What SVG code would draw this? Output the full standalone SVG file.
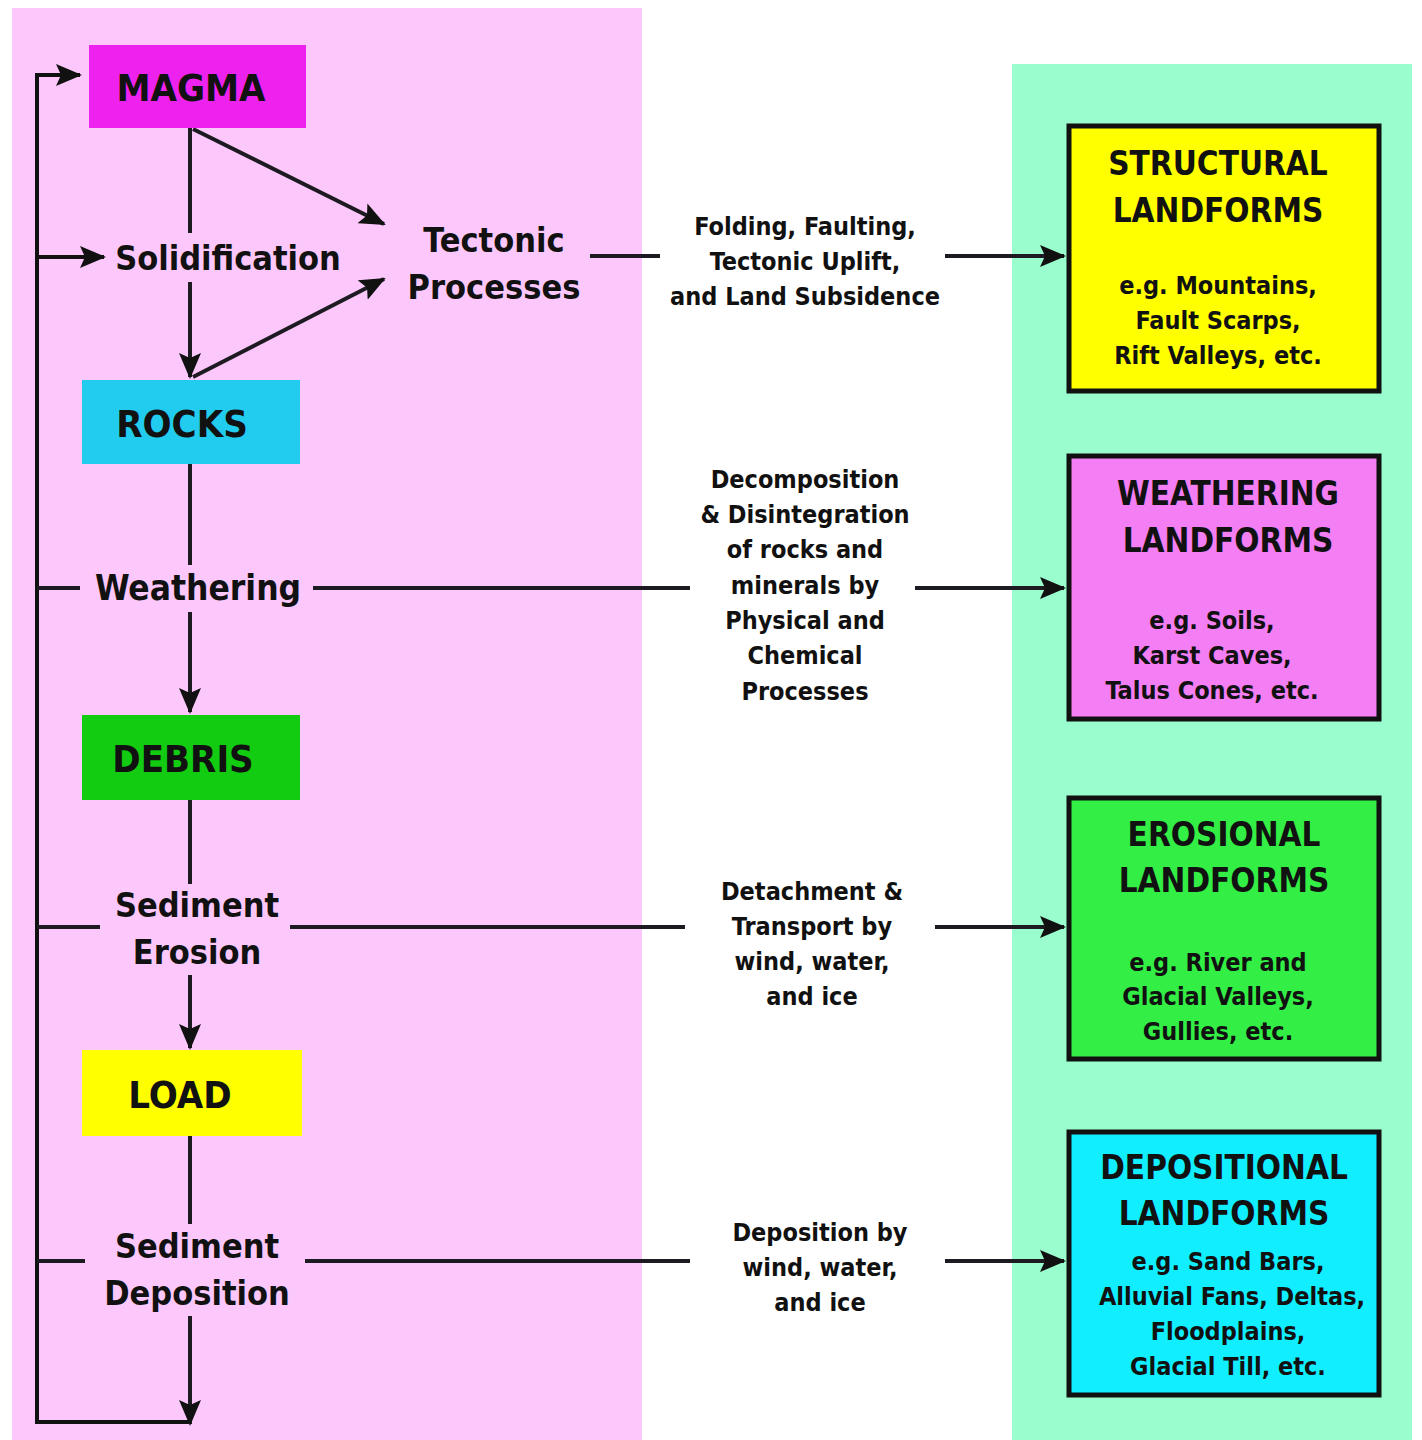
<svg xmlns="http://www.w3.org/2000/svg" width="1422" height="1440" viewBox="0 0 1422 1440">
<defs>
<marker id="ah" markerUnits="userSpaceOnUse" markerWidth="26" markerHeight="22" refX="24" refY="11" orient="auto">
<path d="M0,0 L26,11 L0,22 L5,11 Z" fill="#111"/>
</marker>
</defs>
<style>
.t{font-family:"DejaVu Sans","Liberation Sans",sans-serif;font-stretch:condensed;font-weight:bold;fill:#111;text-anchor:middle}
.big{font-size:38px}
.lab{font-size:34px}
.wl{font-size:35px}
.mid{font-size:25px}
.hd{font-size:33px}
.sm{font-size:25px}
.ln{stroke:#1e1a22;stroke-width:4;fill:none}
.lp{stroke:#111;stroke-width:4;fill:none}
.rb{stroke:#111;stroke-width:5}
</style>
<rect x="0" y="0" width="1422" height="1440" fill="#ffffff"/>
<rect x="12" y="8" width="630" height="1432" fill="#fcc8fc"/>
<rect x="1012" y="64" width="400" height="1376" fill="#99fdcd"/>

<g id="connectors">
<polyline class="lp" points="190,1422 37,1422 37,75 80,75" marker-end="url(#ah)"/>
<line class="lp" x1="37" y1="257" x2="104" y2="257" marker-end="url(#ah)"/>
<line class="ln" x1="37" y1="588" x2="80" y2="588"/>
<line class="ln" x1="37" y1="927" x2="100" y2="927"/>
<line class="ln" x1="37" y1="1261" x2="85" y2="1261"/>
<line class="ln" x1="190" y1="128" x2="190" y2="233"/>
<line class="ln" x1="190" y1="282" x2="190" y2="377" marker-end="url(#ah)"/>
<line class="ln" x1="193" y1="129" x2="384" y2="224" marker-end="url(#ah)"/>
<line class="ln" x1="193" y1="377" x2="384" y2="279" marker-end="url(#ah)"/>
<line class="ln" x1="590" y1="256" x2="660" y2="256"/>
<line class="ln" x1="945" y1="256" x2="1064" y2="256" marker-end="url(#ah)"/>
<line class="ln" x1="190" y1="464" x2="190" y2="565"/>
<line class="ln" x1="313" y1="588" x2="690" y2="588"/>
<line class="ln" x1="915" y1="588" x2="1064" y2="588" marker-end="url(#ah)"/>
<line class="ln" x1="190" y1="612" x2="190" y2="712" marker-end="url(#ah)"/>
<line class="ln" x1="190" y1="800" x2="190" y2="884"/>
<line class="ln" x1="290" y1="927" x2="685" y2="927"/>
<line class="ln" x1="935" y1="927" x2="1064" y2="927" marker-end="url(#ah)"/>
<line class="ln" x1="190" y1="975" x2="190" y2="1048" marker-end="url(#ah)"/>
<line class="ln" x1="190" y1="1136" x2="190" y2="1224"/>
<line class="ln" x1="305" y1="1261" x2="690" y2="1261"/>
<line class="ln" x1="945" y1="1261" x2="1064" y2="1261" marker-end="url(#ah)"/>
<line class="ln" x1="190" y1="1316" x2="190" y2="1424" marker-end="url(#ah)"/>
</g>

<g id="magma">
<rect x="89" y="45" width="217" height="83" fill="#ee22ee"/>
<text class="t big" x="191" y="101">MAGMA</text>
</g>
<g id="solidification">
<text class="t lab" x="228" y="270">Solidification</text>
</g>
<g id="tectonic">
<text class="t lab" x="494" y="252">Tectonic</text>
<text class="t lab" x="494" y="299">Processes</text>
</g>
<g id="tectonic-label">
<text class="t mid" x="805" y="235">Folding, Faulting,</text>
<text class="t mid" x="805" y="270">Tectonic Uplift,</text>
<text class="t mid" x="805" y="305">and Land Subsidence</text>
</g>
<g id="rocks">
<rect x="82" y="380" width="218" height="84" fill="#22ccee"/>
<text class="t big" x="182" y="437">ROCKS</text>
</g>
<g id="weathering">
<text class="t wl" x="198" y="600">Weathering</text>
</g>
<g id="weathering-label">
<text class="t mid" x="805" y="488">Decomposition</text>
<text class="t mid" x="805" y="523">&amp; Disintegration</text>
<text class="t mid" x="805" y="558">of rocks and</text>
<text class="t mid" x="805" y="594">minerals by</text>
<text class="t mid" x="805" y="629">Physical and</text>
<text class="t mid" x="805" y="664">Chemical</text>
<text class="t mid" x="805" y="700">Processes</text>
</g>
<g id="debris">
<rect x="82" y="715" width="218" height="85" fill="#11cc11"/>
<text class="t big" x="183" y="772">DEBRIS</text>
</g>
<g id="erosion">
<text class="t lab" x="197" y="917">Sediment</text>
<text class="t lab" x="197" y="964">Erosion</text>
</g>
<g id="erosion-label">
<text class="t mid" x="812" y="900">Detachment &amp;</text>
<text class="t mid" x="812" y="935">Transport by</text>
<text class="t mid" x="812" y="970">wind, water,</text>
<text class="t mid" x="812" y="1005">and ice</text>
</g>
<g id="load">
<rect x="82" y="1050" width="220" height="86" fill="#ffff00"/>
<text class="t big" x="180" y="1108">LOAD</text>
</g>
<g id="deposition">
<text class="t lab" x="197" y="1258">Sediment</text>
<text class="t lab" x="197" y="1305">Deposition</text>
</g>
<g id="deposition-label">
<text class="t mid" x="820" y="1241">Deposition by</text>
<text class="t mid" x="820" y="1276">wind, water,</text>
<text class="t mid" x="820" y="1311">and ice</text>
</g>

<g id="structural">
<rect class="rb" x="1069" y="126" width="310" height="265" fill="#ffff00"/>
<text class="t hd" x="1218" y="175">STRUCTURAL</text>
<text class="t hd" x="1218" y="222">LANDFORMS</text>
<text class="t sm" x="1218" y="294">e.g. Mountains,</text>
<text class="t sm" x="1218" y="329">Fault Scarps,</text>
<text class="t sm" x="1218" y="364">Rift Valleys, etc.</text>
</g>
<g id="weathering-landforms">
<rect class="rb" x="1069" y="456" width="310" height="263" fill="#f47ef4"/>
<text class="t hd" x="1228" y="505">WEATHERING</text>
<text class="t hd" x="1228" y="552">LANDFORMS</text>
<text class="t sm" x="1212" y="629">e.g. Soils,</text>
<text class="t sm" x="1212" y="664">Karst Caves,</text>
<text class="t sm" x="1212" y="699">Talus Cones, etc.</text>
</g>
<g id="erosional-landforms">
<rect class="rb" x="1069" y="798" width="310" height="261" fill="#33ee44"/>
<text class="t hd" x="1224" y="846">EROSIONAL</text>
<text class="t hd" x="1224" y="892">LANDFORMS</text>
<text class="t sm" x="1218" y="971">e.g. River  and</text>
<text class="t sm" x="1218" y="1005">Glacial Valleys,</text>
<text class="t sm" x="1218" y="1040">Gullies, etc.</text>
</g>
<g id="depositional-landforms">
<rect class="rb" x="1069" y="1132" width="310" height="263" fill="#11eeff"/>
<text class="t hd" x="1224" y="1179">DEPOSITIONAL</text>
<text class="t hd" x="1224" y="1225">LANDFORMS</text>
<text class="t sm" x="1228" y="1270">e.g. Sand Bars,</text>
<text class="t sm" x="1232" y="1305">Alluvial Fans, Deltas,</text>
<text class="t sm" x="1228" y="1340">Floodplains,</text>
<text class="t sm" x="1228" y="1375">Glacial Till, etc.</text>
</g>
</svg>
